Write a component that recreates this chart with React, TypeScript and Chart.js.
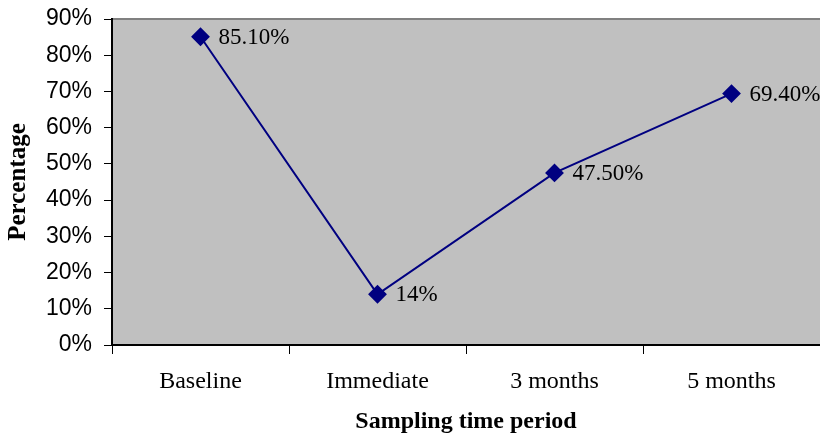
import React, { useEffect, useRef } from "react";
import { Chart, registerables } from "chart.js";

Chart.register(...registerables);

const categories = ["Baseline", "Immediate", "3 months", "5 months"];
const percentages = [85.1, 14, 47.5, 69.4];
const pointLabels = ["85.10%", "14%", "47.50%", "69.40%"];
const yTicks = [0, 10, 20, 30, 40, 50, 60, 70, 80, 90];
const xTitle = "Sampling time period";
const yTitle = "Percentage";

const W = 820;
const H = 437;

const decorPlugin = {
  id: "decor",
  beforeDraw(chart: any) {
    const { ctx, chartArea } = chart;
    ctx.save();
    ctx.fillStyle = "#C0C0C0";
    ctx.fillRect(chartArea.left, chartArea.top, chartArea.right - chartArea.left, chartArea.bottom - chartArea.top);
    ctx.strokeStyle = "#808080";
    ctx.lineWidth = 2;
    ctx.beginPath();
    ctx.moveTo(chartArea.left, chartArea.top);
    ctx.lineTo(chartArea.right, chartArea.top);
    ctx.stroke();
    ctx.restore();
  },
  afterDraw(chart: any) {
    const { ctx, chartArea } = chart;
    ctx.save();
    const meta = chart.getDatasetMeta(0);
    ctx.fillStyle = "#000";
    ctx.font = "23px 'Liberation Serif'";
    ctx.textAlign = "left";
    ctx.textBaseline = "middle";
    meta.data.forEach((pt: any, i: number) => {
      ctx.fillText(pointLabels[i], pt.x + 18, pt.y + 1);
    });
    ctx.font = "bold 24px 'Liberation Serif'";
    ctx.textAlign = "center";
    ctx.textBaseline = "middle";
    ctx.fillText(xTitle, (chartArea.left + chartArea.right) / 2, 422);
    ctx.font = "bold 25px 'Liberation Serif'";
    ctx.translate(19, (chartArea.top + chartArea.bottom) / 2);
    ctx.rotate(-Math.PI / 2);
    ctx.fillText(yTitle, 0, 0);
    ctx.restore();
  },
};

function zeroPadding(scale: any) {
  scale.paddingLeft = 0;
  scale.paddingRight = 0;
  scale.paddingTop = 0;
  scale.paddingBottom = 0;
}

export default function App() {
  const ref = useRef<HTMLCanvasElement>(null);
  useEffect(() => {
    if (!ref.current) return;
    const chart = new Chart(ref.current, {
      type: "line",
      data: {
        labels: categories,
        datasets: [
          {
            data: percentages,
            borderColor: "#000080",
            backgroundColor: "#000080",
            borderWidth: 2,
            pointStyle: "rectRot",
            pointRadius: 8,
            pointHoverRadius: 8,
            tension: 0,
            clip: false as any,
          },
        ],
      },
      options: {
        animation: false,
        responsive: false,
        maintainAspectRatio: false,
        events: [],
        layout: { autoPadding: false, padding: { top: 19, right: 0, left: 0, bottom: 0 } },
        plugins: {
          legend: { display: false },
          tooltip: { enabled: false },
          title: { display: false },
        },
        scales: {
          x: {
            type: "category",
            offset: true,
            grid: {
              offset: true,
              drawOnChartArea: false,
              drawTicks: true,
              tickLength: 9,
              color: "#000",
              lineWidth: 1,
            },
            border: { display: true, color: "#000", width: 2 },
            ticks: {
              color: "#000",
              font: { family: "'Liberation Serif'", size: 24 },
              padding: 13,
              maxRotation: 0,
              autoSkip: false,
            },
            afterFit(scale: any) {
              scale.height = 92;
              zeroPadding(scale);
            },
          },
          y: {
            type: "linear",
            min: 0,
            max: 90,
            afterBuildTicks(scale: any) {
              scale.ticks = yTicks.map((v) => ({ value: v }));
            },
            grid: {
              drawOnChartArea: false,
              drawTicks: true,
              tickLength: 8,
              color: "#000",
            },
            border: { display: true, color: "#000", width: 2 },
            ticks: {
              color: "#000",
              font: { family: "'Liberation Sans'", size: 23 },
              padding: 12,
              callback: (v: any) => v + "%",
            },
            afterFit(scale: any) {
              scale.width = 112;
              zeroPadding(scale);
            },
          },
        },
      },
      plugins: [decorPlugin],
    });
    return () => chart.destroy();
  }, []);
  return (
    <div style={{ position: "fixed", left: 0, top: 0, width: W, height: H, background: "#fff" }}>
      <canvas ref={ref} width={W} height={H} style={{ width: W, height: H, display: "block" }} />
    </div>
  );
}
